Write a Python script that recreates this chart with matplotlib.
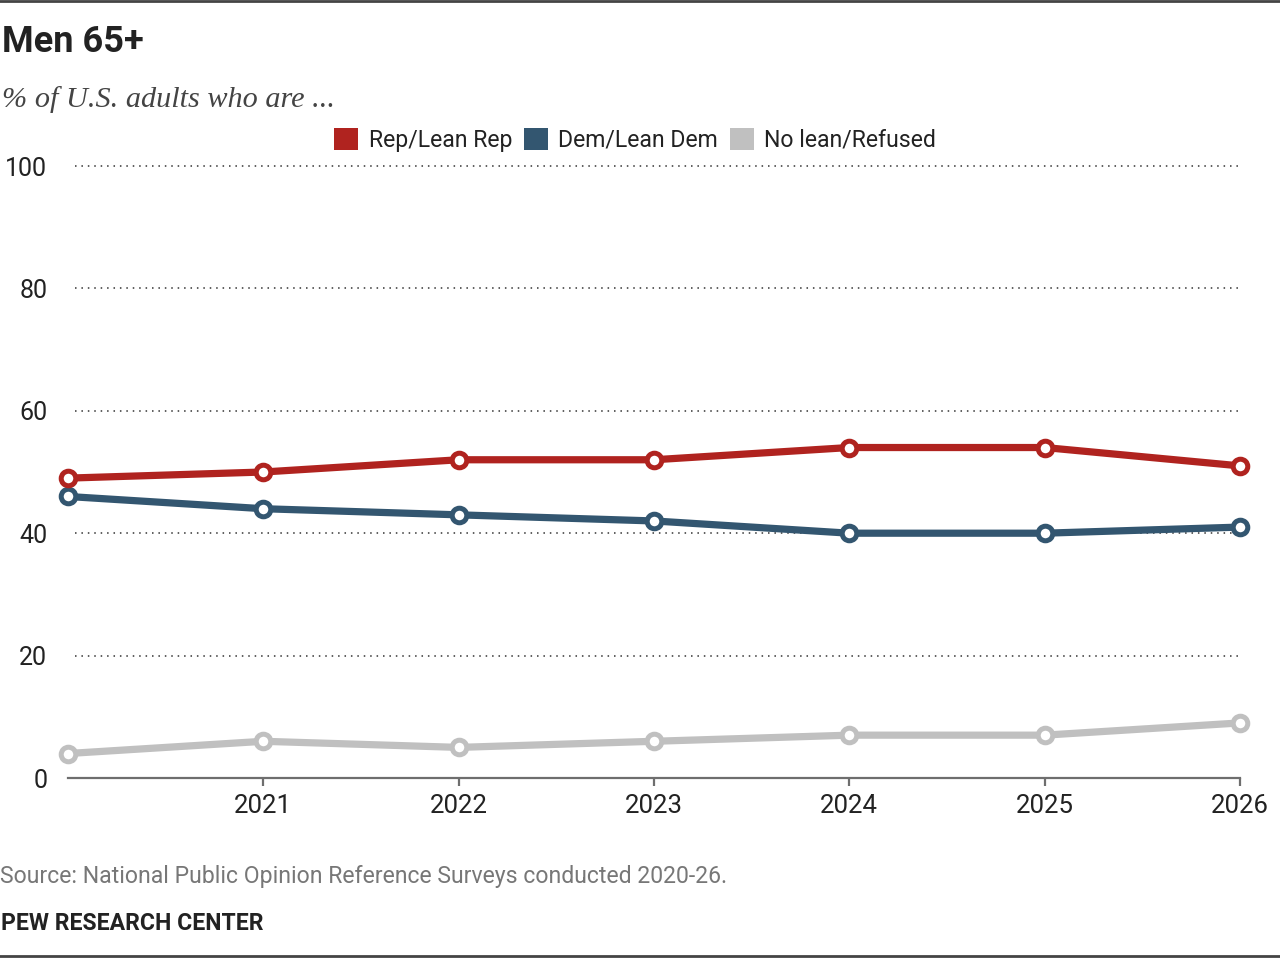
import matplotlib.pyplot as plt
from matplotlib.patches import Patch
from matplotlib.lines import Line2D

years = [2020, 2021, 2022, 2023, 2024, 2025, 2026]
rep = [49, 50, 52, 52, 54, 54, 51]
dem = [46, 44, 43, 42, 40, 40, 41]
no_lean = [4, 6, 5, 6, 7, 7, 9]
series_names = ['Rep/Lean Rep', 'Dem/Lean Dem', 'No lean/Refused']
colors = ['#B0231F', '#335670', '#C0C0C0']
tick_years = [2021, 2022, 2023, 2024, 2025, 2026]
y_ticks = [0, 20, 40, 60, 80, 100]

plt.rcParams['font.family'] = ['Roboto', 'DejaVu Sans']

fig = plt.figure(figsize=(12.8, 9.58), dpi=100)
ax = fig.add_axes([68 / 1280, 1 - 778 / 958, (1240 - 68) / 1280, (778 - 166) / 958])

# dotted gridlines
for y in y_ticks[1:]:
    ax.plot([2020.036, 2026], [y, y], linestyle=(0, (1, 3.2)), color='#333333',
            lw=1.1, zorder=1, clip_on=False)

for vals, c in zip([no_lean, dem, rep], colors[::-1]):
    ax.plot(years, vals, color=c, lw=5.2, marker='o', markersize=10.5,
            markerfacecolor='white', markeredgecolor=c, markeredgewidth=3.6,
            zorder=3, clip_on=False, solid_capstyle='butt')

ax.set_xlim(2020, 2026)
ax.set_ylim(0, 100)
for s in ['top', 'right', 'left']:
    ax.spines[s].set_visible(False)
ax.spines['bottom'].set_color('#6E6E6E')
ax.spines['bottom'].set_linewidth(1.6)
ax.set_xticks(tick_years)
ax.set_xticklabels([str(y) for y in tick_years])
ax.set_yticks(y_ticks)
ax.tick_params(axis='x', length=6, width=1.6, color='#6E6E6E', labelsize=18.5,
               labelcolor='#222222', pad=5.5)
ax.tick_params(axis='y', length=0, labelsize=18, labelcolor='#222222', pad=15)

handles = [Patch(facecolor=c, edgecolor='none') for c in colors]
leg = fig.legend(handles, series_names, loc='center', bbox_to_anchor=(635 / 1280, 1 - 140 / 958),
                 ncol=3, frameon=False, fontsize=16.6, handlelength=1.05, handleheight=1.05,
                 handletextpad=0.45, columnspacing=0.5, labelcolor='#222222')

fig.text(2 / 1280, 1 - 42 / 958, 'Men 65+', fontsize=26, fontweight='bold',
         color='#222222', va='center', ha='left')
fig.text(2 / 1280, 1 - 100 / 958, '% of U.S. adults who are ...', fontsize=21.8,
         fontstyle='italic', family=['Liberation Serif', 'DejaVu Serif'],
         color='#444444', va='center', ha='left')
fig.text(0, 1 - 877 / 958, 'Source: National Public Opinion Reference Surveys conducted 2020-26.',
         fontsize=16.6, color='#777777', va='center', ha='left')
fig.text(1 / 1280, 1 - 924 / 958, 'PEW RESEARCH CENTER', fontsize=16.6, fontweight='bold',
         color='#222222', va='center', ha='left')

# top and bottom rules
fig.add_artist(Line2D([0, 1], [1 - 1 / 958, 1 - 1 / 958], color='#444444', lw=2))
fig.add_artist(Line2D([0, 1], [1 - 956 / 958, 1 - 956 / 958], color='#444444', lw=2))

fig.savefig('out.png', dpi=100)
